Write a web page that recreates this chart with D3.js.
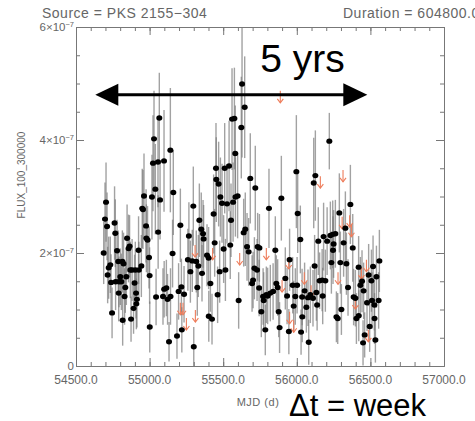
<!DOCTYPE html>
<html><head><meta charset="utf-8">
<script src="https://cdn.jsdelivr.net/npm/d3@7"></script>
<style>body{margin:0;background:#fff;} svg{display:block;}</style>
</head><body><svg id="c" width="475" height="421"></svg>
<script>
// Weekly light curve of PKS 2155-304 (flux in units of 1e-7)
const mjd = [
54688,54697,54704,54711,54715,54722,54733,54738,54745,54762,
54767,54769,54779,54787,54790,54792,54801,54808,54815,54817,
54823,54830,54835,54842,54847,54857,54864,54869,54874,54881,
54891,54898,54903,54908,54910,54914,54925,54927,54944,54950,
54955,54962,54976,54978,54986,54996,55000,55001,55016,55023,
55030,55039,55044,55057,55058,55066,55071,55091,55098,55099,
55114,55122,55132,55141,55142,55156,55161,55186,55197,55209,
55216,55219,55234,55260,55267,55277,55290,55297,55300,55317,
55324,55331,55338,55351,55356,55363,55367,55390,55401,55402,
55413,55424,55435,55442,55451,55453,55462,55469,55476,55481,
55492,55503,55510,55515,55526,55540,55548,55553,55560,55567,
55576,55582,55583,55598,55605,55623,55628,55639,55646,55650,
55662,55673,55684,55696,55703,55712,55718,55730,55734,55746,
55744,55759,55771,55775,55786,55793,55802,55811,55820,55839,
55854,55861,55870,55877,55883,55895,55922,55934,55946,55951,
55972,55979,55990,55997,56002,56006,56024,56029,56036,56037,
56053,56065,56076,56081,56092,56110,56115,56121,56126,56133,
56138,56146,56155,56172,56176,56182,56194,56206,56221,56228,
56235,56244,56246,56250,56262,56269,56278,56289,56296,56303,
56318,56330,56337,56348,56364,56380,56386,56398,56405,56420,
56421,56432,56443,56450,56454,56461,56477,56488,56495,56507,
56511,56518,56527,56528,56534,56541,56556,56561];
const flux = [
2.00,2.60,2.90,2.47,1.61,1.74,1.79,1.48,0.94,2.53,
2.35,1.49,2.04,1.85,1.29,1.49,1.58,1.49,1.85,0.81,
1.81,1.23,1.39,1.58,2.26,2.08,2.12,1.70,0.83,1.70,
1.02,1.47,1.70,1.29,1.10,1.18,2.05,1.70,1.77,2.79,
2.77,3.01,2.48,2.26,2.23,1.92,1.60,0.69,2.99,3.59,
4.02,3.13,1.22,3.61,2.37,4.39,2.94,1.23,3.63,1.36,
1.38,1.18,0.43,3.82,1.23,1.99,3.07,0.53,1.32,2.49,
1.40,0.64,1.27,1.88,2.30,1.67,1.86,2.83,0.34,1.85,
1.39,1.77,2.58,2.42,1.64,2.34,2.25,1.96,1.91,0.88,
1.46,0.83,2.69,2.18,3.50,3.30,1.26,3.22,1.67,2.99,
2.88,2.07,3.50,1.70,2.87,3.54,2.14,2.58,4.37,2.90,
4.38,3.76,2.99,3.01,1.16,4.22,4.99,2.36,4.58,2.42,
2.11,2.02,3.32,1.46,1.52,1.73,3.15,1.70,2.11,2.09,
1.38,0.96,1.23,1.16,0.64,1.26,1.24,2.79,1.29,1.32,
2.05,1.46,1.39,0.96,0.68,2.97,1.55,1.24,0.61,1.88,
1.43,1.06,1.23,3.44,1.43,2.70,2.24,0.60,1.22,0.87,
1.33,1.04,1.21,0.42,1.26,1.20,3.24,1.77,3.37,1.30,
1.08,2.21,1.51,1.52,1.24,2.29,1.51,2.21,3.98,2.31,
1.83,2.33,2.05,2.16,2.34,0.87,0.84,2.71,1.83,1.00,
2.18,2.44,1.81,1.39,2.86,2.09,1.22,1.20,0.84,1.75,
0.89,1.43,1.50,0.41,1.33,0.55,1.12,1.61,0.70,1.51,
1.16,1.76,1.08,0.84,0.46,1.58,1.16,1.86];
const fluxErr = [
0.55,0.65,0.70,0.60,0.50,0.55,0.50,0.50,0.45,0.65,
0.60,0.50,0.55,0.55,0.50,0.45,0.50,0.50,0.55,0.45,
0.55,0.50,0.45,0.50,0.60,0.60,0.55,0.50,0.40,0.55,
0.45,0.50,0.50,0.45,0.45,0.50,0.60,0.50,0.55,0.70,
0.70,0.75,0.65,0.60,0.60,0.55,0.50,0.45,0.75,0.85,
0.85,0.80,0.50,0.80,0.65,0.80,0.70,0.50,0.90,0.50,
0.50,0.45,0.35,1.10,0.50,0.60,0.75,0.40,0.50,0.65,
0.50,0.40,0.50,0.55,0.60,0.55,0.55,0.70,0.35,0.55,
0.50,0.55,0.65,0.65,0.50,0.60,0.60,0.55,0.55,0.45,
0.50,0.45,0.70,0.60,0.80,0.75,0.50,0.75,0.55,0.70,
0.70,0.60,0.80,0.55,0.70,0.80,0.60,0.65,0.90,0.70,
0.90,0.85,0.70,0.75,0.50,0.90,1.30,0.60,0.90,0.65,
0.60,0.60,0.80,0.50,0.50,0.55,0.75,0.55,0.60,0.60,
0.50,0.45,0.50,0.50,0.45,0.50,0.50,0.70,0.50,0.50,
0.60,0.50,0.50,0.45,0.45,0.75,0.55,0.50,0.40,0.55,
0.50,0.45,0.50,1.00,0.50,0.70,0.60,0.40,0.50,0.45,
0.50,0.45,0.50,0.40,0.50,0.50,0.80,0.55,0.80,0.50,
0.45,0.60,0.50,0.55,0.50,0.60,0.55,0.60,0.50,0.60,
0.55,0.60,0.60,0.60,0.60,0.45,0.45,0.70,0.55,0.45,
0.60,0.65,0.55,0.50,0.70,0.60,0.50,0.50,0.45,0.55,
0.45,0.50,0.55,0.40,0.50,0.40,0.50,0.55,0.45,0.55,
0.50,0.55,0.45,0.45,0.40,0.55,0.50,0.55];
// upper limits
const ulMjd = [55209,55227,55250,55309,55311,55428,55612,55793,55888,55900,55945,55951,55979,56051,56097,56160,56280,56308,56314,56359,56371,56398,56439,56473,56486];
const ulFlux = [1.12,1.12,0.85,2.14,0.99,2.09,2.00,2.09,4.87,1.52,1.93,0.96,0.81,1.66,1.43,3.36,1.66,2.64,3.47,2.67,2.50,1.22,1.75,1.88,0.64];
// axes
const xMajorTicks = [54500,55000,55500,56000,56500,57000];
const xTickLabels = ["54500.0","55000.0","55500.0","56000.0","56500.0","57000.0"];
const yMajorTicks = [0,2,4,6];
const yTickMant = ["0","2×10","4×10","6×10"];
// annotations (data coords)
const spanStart = 54631, spanEnd = 56479, spanLevel = 4.80;
const spanLabel = "5 yrs";

const svg = d3.select("#c");
const L = 76, R = 444, T = 27, B = 366;
const x = d3.scaleLinear().domain([54500,57000]).range([L,R]);
const y = d3.scaleLinear().domain([0,6]).range([B,T]);
const axisCol = "#777", txtCol = "#666";
const font = "'Liberation Sans', Arial, sans-serif";

svg.append("clipPath").attr("id","clip").append("rect")
  .attr("x",L).attr("y",T).attr("width",R-L).attr("height",B-T);

const plot = svg.append("g").attr("clip-path","url(#clip)");
const idx = d3.range(mjd.length);
plot.append("g").selectAll("line").data(idx).join("line")
  .attr("x1",i=>x(mjd[i])).attr("x2",i=>x(mjd[i]))
  .attr("y1",i=>y(flux[i]+fluxErr[i])).attr("y2",i=>y(Math.max(flux[i]-fluxErr[i],-0.2)))
  .attr("stroke","#7a7a7a").attr("stroke-width",1.4).attr("stroke-opacity",0.7);

const ulCol = "#ee7c5a";
const ul = plot.append("g").selectAll("g").data(d3.range(ulMjd.length)).join("g")
  .attr("transform",i=>`translate(${x(ulMjd[i])},${y(ulFlux[i])})`);
ul.append("line").attr("x1",0).attr("x2",0).attr("y1",0).attr("y2",12)
  .attr("stroke",ulCol).attr("stroke-width",1.1);
ul.append("path").attr("d","M-3,8L0,12L3,8").attr("fill","none")
  .attr("stroke",ulCol).attr("stroke-width",1.1);

plot.append("g").selectAll("ellipse").data(idx).join("ellipse")
  .attr("cx",i=>x(mjd[i])).attr("cy",i=>y(flux[i])).attr("rx",3).attr("ry",2.7)
  .attr("fill","#000");

// axes
const xMinor = d3.range(54500,57001,100);
const yMinor = d3.range(0,6.01,0.5);
function styleAxis(g){ g.selectAll("path,line").attr("stroke",axisCol).attr("stroke-width",1); g.selectAll("text").remove(); }
svg.append("g").attr("transform",`translate(0,${B})`).call(d3.axisBottom(x).tickValues(xMinor).tickSize(-4).tickSizeOuter(0)).call(styleAxis);
svg.append("g").attr("transform",`translate(0,${B})`).call(d3.axisBottom(x).tickValues(xMajorTicks).tickSize(-8).tickSizeOuter(0)).call(styleAxis);
svg.append("g").attr("transform",`translate(0,${T})`).call(d3.axisTop(x).tickValues(xMinor).tickSize(-4).tickSizeOuter(0)).call(styleAxis);
svg.append("g").attr("transform",`translate(0,${T})`).call(d3.axisTop(x).tickValues(xMajorTicks).tickSize(-8).tickSizeOuter(0)).call(styleAxis);
svg.append("g").attr("transform",`translate(${L},0)`).call(d3.axisLeft(y).tickValues(yMinor).tickSize(-4).tickSizeOuter(0)).call(styleAxis);
svg.append("g").attr("transform",`translate(${L},0)`).call(d3.axisLeft(y).tickValues(yMajorTicks).tickSize(-8).tickSizeOuter(0)).call(styleAxis);
svg.append("g").attr("transform",`translate(${R},0)`).call(d3.axisRight(y).tickValues(yMinor).tickSize(-4).tickSizeOuter(0)).call(styleAxis);
svg.append("g").attr("transform",`translate(${R},0)`).call(d3.axisRight(y).tickValues(yMajorTicks).tickSize(-8).tickSizeOuter(0)).call(styleAxis);

// tick labels
svg.append("g").selectAll("text").data(xMajorTicks).join("text")
  .attr("x",d=>x(d)).attr("y",B+18).attr("text-anchor","middle")
  .attr("font-family",font).attr("font-size",12).attr("fill",txtCol)
  .text((d,i)=>xTickLabels[i]);
const yl = svg.append("g").selectAll("text").data(yMajorTicks).join("text")
  .attr("x",L-2).attr("y",d=>y(d)+4).attr("text-anchor","end")
  .attr("font-family",font).attr("font-size",11.5).attr("fill",txtCol);
yl.append("tspan").text((d,i)=>yTickMant[i]);
yl.filter(d=>d!==0).append("tspan").attr("font-size",7.5).attr("dy",-4.5).text("−7");

// titles
svg.append("text").attr("x",42).attr("y",18).attr("font-family",font).attr("font-size",14)
  .attr("letter-spacing",0.5).attr("fill",txtCol).text("Source = PKS 2155−304");
svg.append("text").attr("x",343).attr("y",18).attr("font-family",font).attr("font-size",14)
  .attr("letter-spacing",0.5).attr("fill",txtCol).text("Duration = 604800.0");
svg.append("text").attr("transform","translate(25,175) rotate(-90)").attr("text-anchor","middle")
  .attr("font-family",font).attr("font-size",10).attr("fill",txtCol).text("FLUX_100_300000");
svg.append("text").attr("x",(L+R)/2-2).attr("y",406).attr("text-anchor","middle")
  .attr("font-family",font).attr("font-size",11).attr("letter-spacing",0.5).attr("fill",txtCol).text("MJD (d)");

// annotation arrow
const ay = y(spanLevel), ax0 = x(spanStart), ax1 = x(spanEnd);
svg.append("line").attr("x1",ax0+15).attr("x2",ax1-15).attr("y1",ay).attr("y2",ay)
  .attr("stroke","#000").attr("stroke-width",3);
svg.append("path").attr("d",`M${ax0},${ay}L${ax0+23},${ay-11}L${ax0+23},${ay+11}Z`).attr("fill","#000");
svg.append("path").attr("d",`M${ax1},${ay}L${ax1-24},${ay-11.5}L${ax1-24},${ay+11.5}Z`).attr("fill","#000");
svg.append("text").attr("x",x(55752)).attr("y",y(5.2)).attr("font-family","'Liberation Sans', Arial, sans-serif")
  .attr("font-size",39).attr("fill","#000").text(spanLabel);
svg.append("text").attr("x",289).attr("y",416).attr("font-family","'Liberation Sans', Arial, sans-serif")
  .attr("font-size",31).attr("fill","#000").text("Δt = week");
</script></body></html>
